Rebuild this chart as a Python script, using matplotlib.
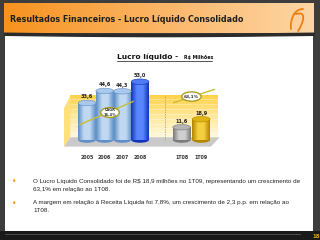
import numpy as np
import matplotlib
matplotlib.use("Agg")
import matplotlib.pyplot as plt
from matplotlib.patches import Rectangle, Ellipse, Polygon, PathPatch
from matplotlib.path import Path
from matplotlib.colors import LinearSegmentedColormap

# ---------------- data ----------------
categories = ["2005", "2006", "2007", "2008", "1T08", "1T09"]
values = [33.6, 44.6, 44.3, 53.0, 11.6, 18.9]
value_labels = ["33,6", "44,6", "44,3", "53,0", "11,6", "18,9"]
cagr_label = "CAGR\n16,4%"
growth_label = "63,1%"
page_title = "Resultados Financeiros - Lucro Líquido Consolidado"
chart_title = "Lucro líquido -"
chart_unit = "R$ Milhões"
bullets = [
    "O Lucro Líquido Consolidado foi de R$ 18,9 milhões no 1T09, representando um crescimento de\n63,1% em relação ao 1T08.",
    "A margem em relação à Receita Líquida foi 7,8%, um crescimento de 2,3 p.p. em relação ao\n1T08.",
]
page_number = "18"

W, H = 320, 240
fig = plt.figure(figsize=(W / 100, H / 100), dpi=100)
fig.patch.set_facecolor("#3d3d3d")

# ---------------- slide decoration (pixel space) ----------------
bg = fig.add_axes([0, 0, 1, 1])
bg.axis("off")

bg.add_patch(Rectangle((5, 34), 308, 197, facecolor="white", edgecolor="none"))
bg.add_patch(Rectangle((0, 231), W, 9, facecolor="#1a1a1a", edgecolor="none"))
bg.plot([5, 300], [234, 234], color="#555555", lw=0.6)
grad = np.linspace(0, 1, 256).reshape(1, -1)
hcmap = LinearSegmentedColormap.from_list("h", ["#f7921e", "#fbb565", "#fdd6a6"])
bg.imshow(grad, cmap=hcmap, extent=(4, 314, 33, 3), aspect="auto", zorder=1)
bg.set_xlim(0, W)
bg.set_ylim(H, 0)
xs = np.linspace(4, 314, 100)
ys = 33 + 1.3 * np.sin((xs - 4) / 310 * np.pi)
bg.fill_between(xs, ys - 0.3, ys + 1.8, color="#2b2b2b", zorder=2)
bg.text(10, 19, page_title, fontsize=5.8, fontweight="bold", color="#1e1e1e",
        va="center", ha="left", family="DejaVu Sans", zorder=3)
logo1 = Path([(303, 9), (294, 9), (290, 20), (291, 29)],
             [Path.MOVETO, Path.CURVE4, Path.CURVE4, Path.CURVE4])
logo2 = Path([(294, 14), (300, 13.5), (305, 13.5), (304, 22), (298, 31)],
             [Path.MOVETO, Path.LINETO, Path.CURVE4, Path.CURVE4, Path.CURVE4])
for p in (logo1, logo2):
    bg.add_patch(PathPatch(p, facecolor="none", edgecolor="#f07f10", lw=1.3, zorder=3,
                           capstyle="round"))

by = [182, 203]
for y, txt in zip(by, bullets):
    bg.text(14, y, "•", color="#f7941d", fontsize=5.5, va="center", ha="center")
    bg.text(33, y - 3, txt, fontsize=4.5, color="#222222", va="top", ha="left",
            family="Liberation Sans", linespacing=1.7)
bg.text(316, 236, page_number, fontsize=3.8, color="#e8a020", fontweight="bold",
        ha="center", va="center")

bg.text(117, 57, chart_title, fontsize=5.4, fontweight="bold", color="#111111",
        ha="left", va="center", zorder=3)
bg.text(184, 57.6, chart_unit, fontsize=3.4, fontweight="bold", color="#111111",
        ha="left", va="center", zorder=3)
bg.plot([117, 212], [61, 61], color="#111111", lw=0.5)

# ---------------- chart axes ----------------
px_left, px_right, px_top, px_bot = 60, 225, 60, 150
ax = fig.add_axes([px_left / W, 1 - px_bot / H, (px_right - px_left) / W, (px_bot - px_top) / H])
unit_px = 17.7
x0_px = 87
xmin = (px_left - x0_px) / unit_px
xmax = xmin + (px_right - px_left) / unit_px
base_px = 140
vy = 1.1
ymin = -(px_bot - base_px) / vy
ymax = (base_px - px_top) / vy
ax.patch.set_alpha(0)
for s in ax.spines.values():
    s.set_visible(False)
ax.set_yticks([])

n_year = 4
xpos = [float(i) for i in range(n_year)] + [5.35, 6.45]

ycmap = LinearSegmentedColormap.from_list("y", ["#fff8dc", "#ffe89a", "#ffd24a"])
vgrad = np.linspace(0, 1, 64).reshape(-1, 1)
ax.imshow(vgrad, cmap=ycmap, extent=(-0.95, 7.4, 40, 2.5), aspect="auto", zorder=0)
for yy in np.arange(6, 40, 4.5):
    ax.plot([-0.95, 7.4], [yy, yy], color="white", lw=0.4, alpha=0.5, zorder=0.5)
ax.add_patch(Polygon([(-1.3, -6.0), (-0.95, 2.5), (-0.95, 40), (-1.3, 29)],
                     closed=True, facecolor="#ffe07a", edgecolor="none", zorder=0.55))
ax.add_patch(Polygon([(-1.3, -6.0), (7.0, -6.0), (7.5, 2.5), (-0.95, 2.5)],
                     closed=True, facecolor="#c9c9c9", edgecolor="none", zorder=0.6))
ax.plot([4.4, 4.4], [0, 41], color="#b89a60", lw=0.6, ls=(0, (1.5, 1.5)), zorder=0.7)

colors = [
    ("#5f8fc6", "#c0d8f2", "#a9c8ec"),
    ("#5f8fc6", "#c0d8f2", "#a9c8ec"),
    ("#5f8fc6", "#c0d8f2", "#a9c8ec"),
    ("#1434b8", "#5a86ff", "#4f7bf5"),
    ("#7a7a7a", "#d0d0d0", "#b4b4b4"),
    ("#b38400", "#f5d040", "#e0b410"),
]

bw = 1.0
eh = 5.0
bars = ax.bar(xpos, values, width=bw, color=[c[0] for c in colors], zorder=2, linewidth=0)
for i, (b, x, v) in enumerate(zip(bars, xpos, values)):
    dark, light, top = colors[i]
    ax.add_patch(Ellipse((x, 0), bw, eh, facecolor=dark, edgecolor="none", zorder=1.9))
    cm = LinearSegmentedColormap.from_list("c%d" % i, [dark, light, light, dark])
    hg = np.linspace(0, 1, 64).reshape(1, -1)
    im = ax.imshow(hg, cmap=cm, extent=(x - bw / 2, x + bw / 2, 0, v), aspect="auto", zorder=2.1)
    im.set_clip_path(b)
    ax.add_patch(Ellipse((x, v), bw, eh, facecolor=top, edgecolor=dark, lw=0.4, zorder=2.2))
    ax.text(x, v + eh / 2 + 3.0, value_labels[i], ha="center", va="center", fontsize=3.6,
            fontweight="bold", color="#222222", zorder=3)
ax.set_xlim(xmin, xmax)
ax.set_ylim(ymin, ymax)

ax.set_xticks(xpos)
ax.set_xticklabels(categories, fontsize=3.4, fontweight="bold", color="#333333")
ax.tick_params(axis="x", length=0, pad=3.5)

ax.plot([-0.4, 2.6], [14, 35], color="#c8c030", lw=1.0, zorder=3)
ax.add_patch(Ellipse((1.3, 25), 1.05, 9.0, facecolor="white", edgecolor="#a8a020", lw=1.0, zorder=3.5))
ax.text(1.3, 25, cagr_label, ha="center", va="center", fontsize=2.6, fontweight="bold",
        color="#333333", zorder=4, linespacing=1.2)
ax.plot([4.9, 7.2], [34, 46], color="#c8c030", lw=1.0, zorder=3)
ax.add_patch(Ellipse((5.9, 39.5), 1.1, 8.5, facecolor="white", edgecolor="#a8a020", lw=1.0, zorder=3.5))
ax.text(5.9, 39.5, growth_label, ha="center", va="center", fontsize=3.2, fontweight="bold",
        color="#333333", zorder=4)

fig.savefig("out.png", dpi=100, facecolor=fig.get_facecolor())
